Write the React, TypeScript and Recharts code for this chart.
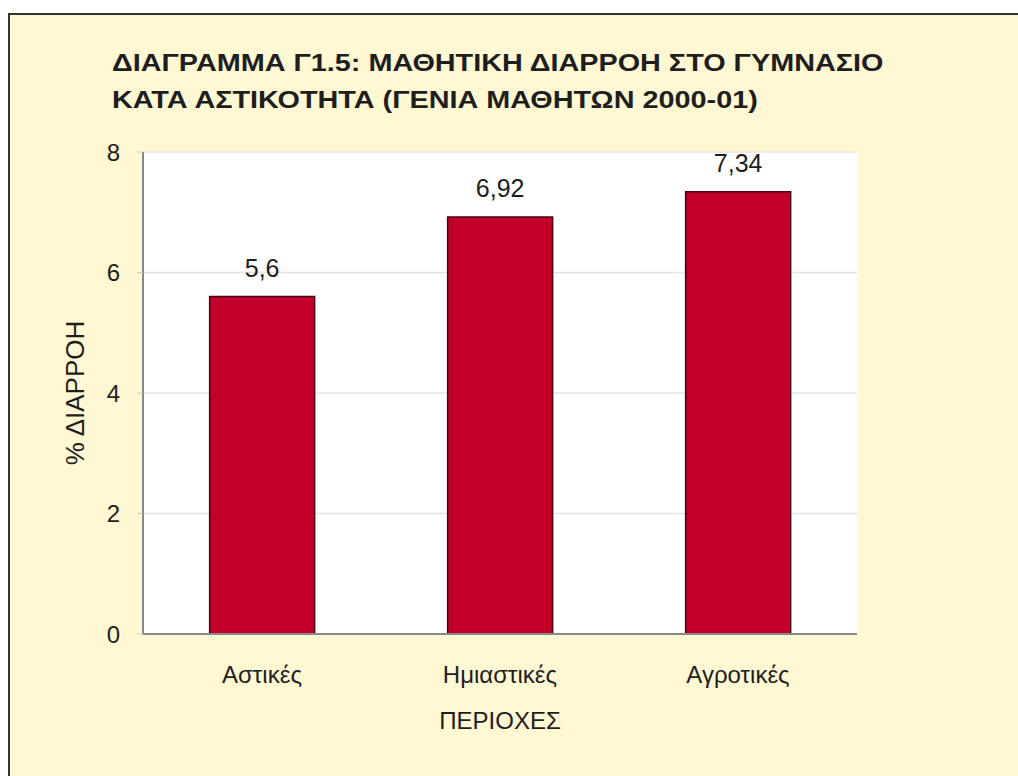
import { BarChart, Bar, XAxis, YAxis, CartesianGrid, LabelList, Label } from "recharts";

const regions = ["Αστικές", "Ημιαστικές", "Αγροτικές"];
const dropout = [5.6, 6.92, 7.34];
const yTicks = [0, 2, 4, 6, 8];
const titleLines = [
  "ΔΙΑΓΡΑΜΜΑ Γ1.5: ΜΑΘΗΤΙΚΗ ΔΙΑΡΡΟΗ ΣΤΟ ΓΥΜΝΑΣΙΟ",
  "ΚΑΤΑ ΑΣΤΙΚΟΤΗΤΑ (ΓΕΝΙΑ ΜΑΘΗΤΩΝ 2000-01)",
];

const data = regions.map((name, i) => ({ name, value: dropout[i] }));

const FONT = "'Liberation Sans', Arial, sans-serif";
const BG = "#fff8d2";
const TXT = "#1e1e1e";

const fmt = (v: number) => String(v).replace(".", ",");

export default function App() {
  return (
    <div
      style={{
        position: "fixed",
        left: 0,
        top: 0,
        width: 1018,
        height: 776,
        background: "#fff",
        fontFamily: FONT,
      }}
    >
      <div
        style={{
          position: "absolute",
          left: 8,
          top: 13,
          width: 1010,
          height: 763,
          background: BG,
          borderLeft: "2px solid #333",
          borderTop: "2px solid #333",
          boxSizing: "border-box",
        }}
      />
      <div
        style={{
          position: "absolute",
          left: 112,
          top: 44,
          fontSize: 24,
          fontWeight: "bold",
          lineHeight: "37px",
          color: TXT,
          whiteSpace: "nowrap",
          transform: "scaleX(1.2)",
          transformOrigin: "left top",
        }}
      >
        {titleLines.map((t) => (
          <div key={t}>{t}</div>
        ))}
      </div>
      <div style={{ position: "absolute", left: 0, top: 0 }}>
        <BarChart
          width={1018}
          height={776}
          data={data}
          margin={{ top: 152, left: 103, right: 161, bottom: 92 }}
          barCategoryGap="28%"
        >
          <CartesianGrid vertical={false} fill="#fff" stroke="#e4e4e4" strokeWidth={1.5} />
          <XAxis
            dataKey="name"
            height={50}
            axisLine={{ stroke: "#888", strokeWidth: 2 }}
            tickLine={false}
            tick={{ fill: TXT, fontSize: 24, fontFamily: FONT }}
            tickMargin={26}
          >
            <Label value="ΠΕΡΙΟΧΕΣ" position="insideBottom" offset={-45} fill={TXT} fontSize={24} fontFamily={FONT} />
          </XAxis>
          <XAxis xAxisId="top" dataKey="name" orientation="top" height={0} tick={false} tickLine={false} axisLine={{ stroke: "#888", strokeWidth: 2 }} />
          <YAxis
            width={40}
            domain={[0, 8]}
            ticks={yTicks}
            axisLine={{ stroke: "#888", strokeWidth: 2 }}
            tickLine={{ stroke: "#c8c8c8" }}
            tickSize={6}
            tickMargin={17}
            tick={{ fill: TXT, fontSize: 24, fontFamily: FONT }}
          >
            <Label
              value="% ΔΙΑΡΡΟΗ"
              angle={-90}
              position="insideLeft"
              offset={-28}
              fill={TXT}
              fontSize={26}
              fontFamily={FONT}
              style={{ textAnchor: "middle" }}
            />
          </YAxis>
          <YAxis yAxisId="right" orientation="right" width={0} domain={[0, 8]} tick={false} tickLine={false} axisLine={{ stroke: "#888", strokeWidth: 2 }} />
          <Bar dataKey="value" fill="#c2002a" stroke="#4a0012" strokeWidth={1.5} isAnimationActive={false}>
            <LabelList dataKey="value" position="top" offset={20} formatter={fmt} fill={TXT} fontSize={25} fontFamily={FONT} />
          </Bar>
        </BarChart>
      </div>
    </div>
  );
}
